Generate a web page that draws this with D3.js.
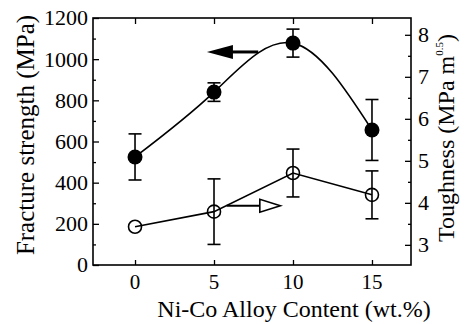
<!DOCTYPE html>
<html><head><meta charset="utf-8">
<script src="https://cdn.jsdelivr.net/npm/d3@7"></script>
<style>body{margin:0;background:#fff}svg{display:block}</style>
</head><body>
<svg id="c" width="469" height="324"></svg>
<script>
const alloy = [0, 5, 10, 15];
const strength = [525, 840, 1078, 656];
const strengthErr = [112, 45, 68, 148];
const toughness = [3.43, 3.79, 4.71, 4.19];
const toughnessErr = [0, 0.78, 0.57, 0.57];
const xTicks = [0, 5, 10, 15];
const leftTicks = [0, 200, 400, 600, 800, 1000, 1200];
const rightTicks = [3, 4, 5, 6, 7, 8];

const FONT = "'Liberation Serif', 'Times New Roman', Times, 'DejaVu Serif', serif";
const svg = d3.select("#c");
const L = 93, R = 411, T = 18, B = 265;
const x = d3.scaleLinear().domain([-2.66, 17.47]).range([L, R]);
const yL = d3.scaleLinear().domain([0, 1200]).range([B, T]);
const yR = d3.scaleLinear().domain([2.52, 8.4]).range([B, T]);

svg.append("rect").attr("x", L).attr("y", T).attr("width", R - L).attr("height", B - T)
  .attr("fill", "none").attr("stroke", "#000").attr("stroke-width", 1.6);

const gL = svg.append("g").attr("transform", `translate(${L},0)`)
  .call(d3.axisRight(yL).tickValues(d3.range(0, 1201, 100)).tickSize(5).tickFormat(""));
gL.selectAll(".tick line").attr("x2", d => d % 200 === 0 ? 6 : 3);
const gR = svg.append("g").attr("transform", `translate(${R},0)`)
  .call(d3.axisLeft(yR).tickValues(d3.range(3, 8.01, 0.5)).tickSize(5).tickFormat(""));
gR.selectAll(".tick line").attr("x2", d => Number.isInteger(d) ? -6 : -3);
svg.append("g").attr("transform", `translate(0,${B})`)
  .call(d3.axisTop(x).tickValues(xTicks).tickSize(5).tickFormat(""));
svg.append("g").attr("transform", `translate(0,${T})`)
  .call(d3.axisBottom(x).tickValues(xTicks).tickSize(6).tickFormat(""));
svg.selectAll(".domain").remove();
svg.selectAll(".tick line").attr("stroke", "#000").attr("stroke-width", 1.3);

const lab = svg.append("g").attr("font-family", FONT).attr("fill", "#000");
lab.append("g").selectAll("text").data(leftTicks).join("text")
  .attr("x", L - 5).attr("y", d => yL(d)).attr("dy", "0.34em").attr("text-anchor", "end")
  .attr("font-size", 22).text(d => d);
lab.append("g").selectAll("text").data(rightTicks).join("text")
  .attr("x", R + 7).attr("y", d => yR(d)).attr("dy", "0.34em").attr("text-anchor", "start")
  .attr("font-size", 22).text(d => d);
lab.append("g").selectAll("text").data(xTicks).join("text")
  .attr("x", d => x(d)).attr("y", 289).attr("text-anchor", "middle")
  .attr("font-size", 21).text(d => d);

lab.append("text").attr("x", 294).attr("y", 317).attr("text-anchor", "middle")
  .attr("font-size", 24).text("Ni-Co Alloy Content (wt.%)");
lab.append("text").attr("transform", "translate(34,135) rotate(-90)").attr("text-anchor", "middle")
  .attr("font-size", 25).text("Fracture strength (MPa)");
const rt = lab.append("text").attr("transform", "translate(454,138) rotate(-90)").attr("text-anchor", "middle")
  .attr("font-size", 24);
rt.append("tspan").text("Toughness (MPa m");
rt.append("tspan").attr("font-size", 11).attr("dy", -11).text("0.5");
rt.append("tspan").attr("dy", 11).text(")");

const pts = alloy.map((a, i) => ({a, s: strength[i], se: strengthErr[i], t: toughness[i], te: toughnessErr[i]}));

svg.append("path").datum(pts).attr("fill", "none").attr("stroke", "#000").attr("stroke-width", 1.6)
  .attr("d", d3.line().x(d => x(d.a)).y(d => yL(d.s)).curve(d3.curveNatural));
svg.append("path").datum(pts).attr("fill", "none").attr("stroke", "#000").attr("stroke-width", 1.6)
  .attr("d", d3.line().x(d => x(d.a)).y(d => yR(d.t)));

function errBars(data, val, err, scale) {
  const g = svg.append("g").attr("stroke", "#000").attr("stroke-width", 1.6);
  data.filter(d => err(d) > 0).forEach(d => {
    const cx = x(d.a), y1 = scale(val(d) + err(d)), y2 = scale(val(d) - err(d));
    g.append("line").attr("x1", cx).attr("x2", cx).attr("y1", y1).attr("y2", y2);
    g.append("line").attr("x1", cx - 6.5).attr("x2", cx + 6.5).attr("y1", y1).attr("y2", y1);
    g.append("line").attr("x1", cx - 6.5).attr("x2", cx + 6.5).attr("y1", y2).attr("y2", y2);
  });
}
errBars(pts, d => d.s, d => d.se, yL);
errBars(pts, d => d.t, d => d.te, yR);

svg.append("g").selectAll("circle").data(pts).join("circle")
  .attr("cx", d => x(d.a)).attr("cy", d => yL(d.s)).attr("r", 7.5).attr("fill", "#000");
svg.append("g").selectAll("circle").data(pts).join("circle")
  .attr("cx", d => x(d.a)).attr("cy", d => yR(d.t)).attr("r", 6.5)
  .attr("fill", "none").attr("stroke", "#000").attr("stroke-width", 1.6);

const ya = yL(1035);
svg.append("line").attr("x1", x(7.8)).attr("x2", x(6.1)).attr("y1", ya).attr("y2", ya)
  .attr("stroke", "#000").attr("stroke-width", 3);
svg.append("path").attr("fill", "#000")
  .attr("d", `M${x(4.55)},${ya} L${x(6.2)},${ya - 7} L${x(6.2)},${ya + 7} Z`);
const yb = yR(3.93);
svg.append("line").attr("x1", x(5.8)).attr("x2", x(7.9)).attr("y1", yb).attr("y2", yb)
  .attr("stroke", "#000").attr("stroke-width", 2);
svg.append("path").attr("fill", "#fff").attr("stroke", "#000").attr("stroke-width", 1.6)
  .attr("d", `M${x(9.2)},${yb} L${x(7.9)},${yb - 6.5} L${x(7.9)},${yb + 6.5} Z`);
</script>
</body></html>
